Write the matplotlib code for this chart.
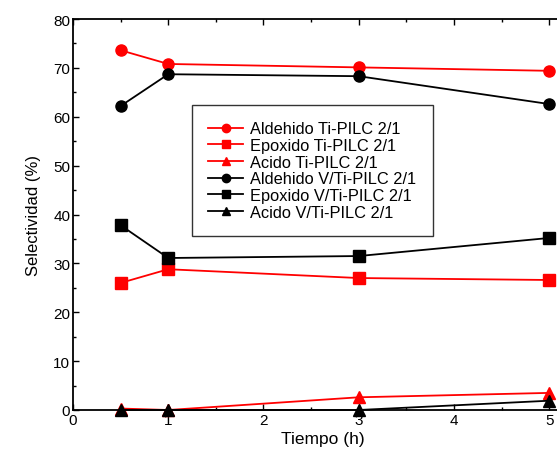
import matplotlib
matplotlib.use("Agg")
import matplotlib.pyplot as plt
from matplotlib.ticker import MultipleLocator

plt.rcParams['font.family'] = ['Liberation Sans', 'DejaVu Sans']

tiempo = [0.5, 1, 3, 5]
aldehido_ti = [73.6, 70.8, 70.1, 69.4]
epoxido_ti = [26.0, 28.8, 27.0, 26.6]
acido_ti = [0.3, 0.0, 2.6, 3.5]
aldehido_v = [62.2, 68.7, 68.3, 62.6]
epoxido_v = [37.8, 31.1, 31.5, 35.2]
acido_v = [0.0, 0.0, 0.0, 1.9]

fig = plt.figure(figsize=(5.57, 4.52), dpi=100)
ax = fig.add_axes([73/557, 41/452, 500/557, 391/452])

kw = dict(lw=1.3, ms=8, clip_on=False)
ax.plot(tiempo, aldehido_ti, '-o', color='red', label='Aldehido Ti-PILC 2/1', **kw)
ax.plot(tiempo, epoxido_ti, '-s', color='red', label='Epoxido Ti-PILC 2/1', **kw)
ax.plot(tiempo, acido_ti, '-^', color='red', label='Acido Ti-PILC 2/1', **kw)
ax.plot(tiempo, aldehido_v, '-o', color='black', label='Aldehido V/Ti-PILC 2/1', **kw)
ax.plot(tiempo, epoxido_v, '-s', color='black', label='Epoxido V/Ti-PILC 2/1', **kw)
ax.plot(tiempo, acido_v, '-^', color='black', label='Acido V/Ti-PILC 2/1', **kw)

ax.set_xlim(0, 5.25)
ax.set_ylim(0, 80)
ax.set_xticks([0, 1, 2, 3, 4, 5])
ax.xaxis.set_minor_locator(MultipleLocator(0.5))
ax.yaxis.set_major_locator(MultipleLocator(10))
ax.yaxis.set_minor_locator(MultipleLocator(5))
ax.tick_params(which='both', direction='in', top=True, right=False, labelsize=11, width=1, pad=2)
ax.tick_params(which='major', length=4)
ax.tick_params(which='minor', length=2.5)
for s in ax.spines.values():
    s.set_linewidth(1.3)

ax.set_xlabel('Tiempo (h)', fontsize=12.5, labelpad=3)
ax.set_ylabel('Selectividad (%)', fontsize=12, labelpad=9)

leg = ax.legend(loc='upper left', bbox_to_anchor=(192/557, 1 - 106/452),
                bbox_transform=fig.transFigure, fontsize=11.8, frameon=True,
                fancybox=False, edgecolor='black', handlelength=2.1,
                handletextpad=0.45, labelspacing=0.1, borderpad=1.0,
                borderaxespad=0, markerscale=0.75)
leg.get_frame().set_linewidth(1.0)

fig.savefig('out.png', dpi=100)
